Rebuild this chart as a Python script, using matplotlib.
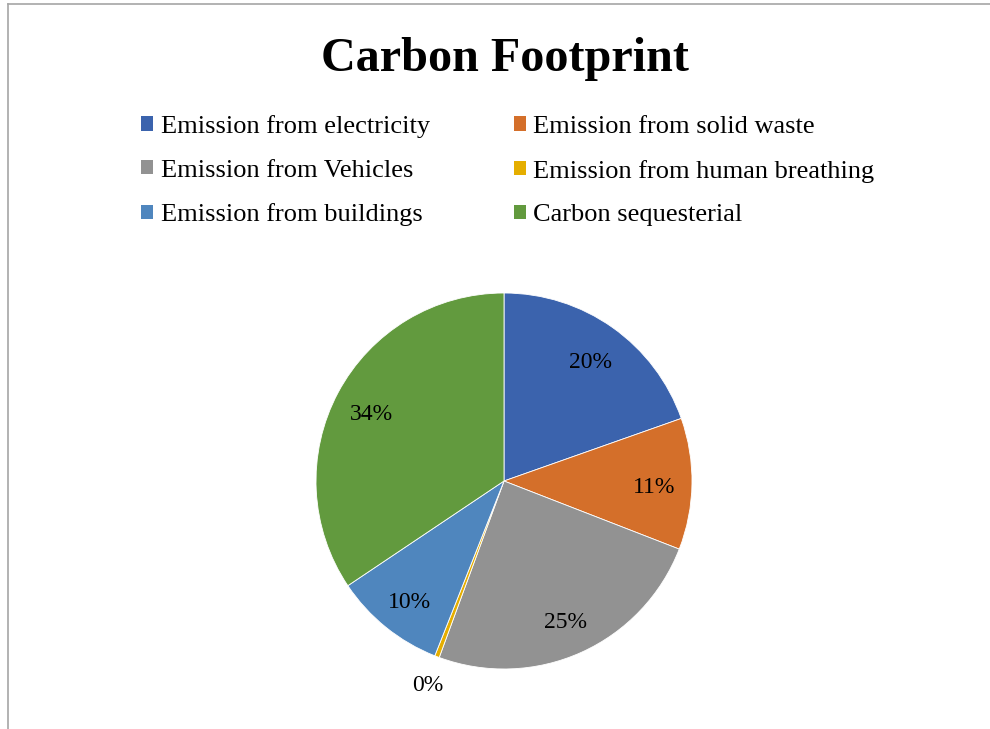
import numpy as np
import matplotlib
matplotlib.use("Agg")
import matplotlib.pyplot as plt
from matplotlib.patches import Patch
from matplotlib.lines import Line2D

categories = ["Emission from electricity", "Emission from solid waste",
              "Emission from Vehicles", "Emission from human breathing",
              "Emission from buildings", "Carbon sequesterial"]
values = [19.6, 11.3, 24.7, 0.4, 9.6, 34.4]
colors = ["#3B63AD", "#D46F2A", "#929292", "#E5AE00", "#4F86BE", "#629A3E"]
title = "Carbon Footprint"

plt.rcParams['font.family'] = ['Liberation Serif', 'DejaVu Serif']

fig = plt.figure(figsize=(9.9, 7.29), dpi=100)

# frame lines (left and top)
fig.add_artist(Line2D([8/990, 8/990], [0, 1-4/729], transform=fig.transFigure, color="#A6A6A6", lw=1.2))
fig.add_artist(Line2D([8/990, 1], [1-4/729, 1-4/729], transform=fig.transFigure, color="#A6A6A6", lw=1.2))

fig.text(505/990, 1-59/729, title, ha='center', va='center', fontsize=34.7, fontweight='bold')

ax = fig.add_axes([316/990, 1-669/729, 376/990, 376/729])
wedges, _ = ax.pie(values, colors=colors, startangle=90, counterclock=False,
                   radius=1.0, wedgeprops=dict(edgecolor='white', linewidth=0.6))
ax.set_xlim(-1, 1)
ax.set_ylim(-1, 1)
ax.set_aspect('equal')
ax.axis('off')

total = sum(values)
for w, v in zip(wedges, values):
    mid = np.deg2rad((w.theta1 + w.theta2) / 2)
    frac = v / total
    d = 0.8 if frac > 0.02 else 1.14
    ax.text(d*np.cos(mid), d*np.sin(mid) - 0.01, f"{round(100*frac):.0f}%",
            ha='center', va='center_baseline', fontsize=17, clip_on=False)

handles = [Patch(facecolor=c, edgecolor='none') for c in colors]
order = [0, 2, 4, 1, 3, 5]
fig.legend([handles[i] for i in order], [categories[i] for i in order],
           ncol=2, loc='upper left', bbox_to_anchor=(141/990, 1-115/729),
           frameon=False, fontsize=19, handlelength=0.47, handleheight=0.47,
           handletextpad=0.27, columnspacing=3.19, labelspacing=0.82, borderpad=0,
           borderaxespad=0)

fig.savefig("out.png", dpi=100)
